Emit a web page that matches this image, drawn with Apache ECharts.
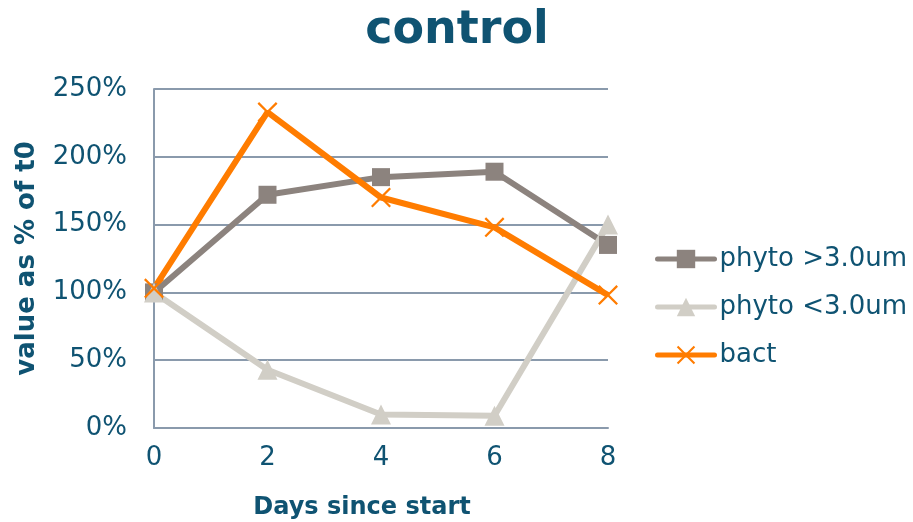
<!DOCTYPE html>
<html>
<head>
<meta charset="utf-8">
<script src="https://cdn.jsdelivr.net/npm/echarts@6/dist/echarts.min.js"></script>
<style>html,body{margin:0;padding:0;background:#fff;}#chart{width:913px;height:522px;}</style>
</head>
<body>
<div id="chart"></div>
<script>
const days = [0, 2, 4, 6, 8];
const phytoLarge = [100, 172, 185, 189, 135];
const phytoSmall = [100, 43, 10, 9, 150];
const bact = [103, 233, 170, 148, 98];
const seriesNames = ['phyto >3.0um', 'phyto <3.0um', 'bact'];
const titleText = 'control';
const xName = 'Days since start';
const yName = 'value as % of t0';

const textColor = '#0f5372';
const gridColor = '#8a9aac';
const font = 'DejaVu Sans';
const colors = ['#8c837e', '#d1cec6', '#ff7c00'];
const crossPath = 'path://M0,1.6 L1.6,0 L10,8.4 L18.4,0 L20,1.6 L11.6,10 L20,18.4 L18.4,20 L10,11.6 L1.6,20 L0,18.4 L8.4,10 Z';

function pairs(vals) { return days.map((d, i) => [d, vals[i]]); }

const chart = echarts.init(document.getElementById('chart'));
chart.setOption({
  animation: false,
  backgroundColor: '#ffffff',
  title: {
    text: titleText, left: 452, textAlign: 'center', top: 3,
    textStyle: { fontFamily: font, fontSize: 46, fontWeight: 'bold', color: textColor }
  },
  grid: { left: 154, right: 305, top: 89, bottom: 94, containLabel: false, outerBoundsMode: 'none' },
  legend: {
    orient: 'vertical', left: 650, top: 241, itemWidth: 57, itemHeight: 23, itemGap: 22,
    lineStyle: { width: 5, cap: 'round' },
    textStyle: { fontFamily: font, fontSize: 26, color: textColor, lineHeight: 26 },
    data: seriesNames
  },
  xAxis: {
    type: 'value', min: 0, max: 8, interval: 2,
    name: xName, nameLocation: 'middle', nameGap: 68,
    nameTextStyle: { fontFamily: font, fontSize: 24, fontWeight: 'bold', color: textColor, padding: [0, 38, 0, 0] },
    axisLine: { show: true, lineStyle: { color: gridColor, width: 2 } },
    axisTick: { show: false },
    splitLine: { show: false },
    axisLabel: { fontFamily: font, fontSize: 26, color: textColor, margin: 17 }
  },
  yAxis: {
    type: 'value', min: 0, max: 250, interval: 50,
    name: yName, nameLocation: 'middle', nameGap: 114, nameRotate: 90,
    nameTextStyle: { fontFamily: font, fontSize: 26, fontWeight: 'bold', color: textColor },
    axisLine: { show: true, lineStyle: { color: gridColor, width: 2 } },
    axisTick: { show: false },
    splitLine: { show: true, lineStyle: { color: gridColor, width: 2 } },
    axisLabel: { fontFamily: font, fontSize: 26, color: textColor, margin: 27, formatter: '{value}%' }
  },
  series: [
    {
      name: seriesNames[0], type: 'line', data: pairs(phytoLarge),
      symbol: 'rect', symbolSize: 18,
      lineStyle: { color: colors[0], width: 6 },
      itemStyle: { color: colors[0] }
    },
    {
      name: seriesNames[1], type: 'line', data: pairs(phytoSmall),
      symbol: 'triangle', symbolSize: 20,
      lineStyle: { color: colors[1], width: 6 },
      itemStyle: { color: colors[1] }
    },
    {
      name: seriesNames[2], type: 'line', data: pairs(bact),
      symbol: crossPath, symbolSize: 20,
      lineStyle: { color: colors[2], width: 6 },
      itemStyle: { color: colors[2] }
    }
  ]
});
</script>
</body>
</html>
